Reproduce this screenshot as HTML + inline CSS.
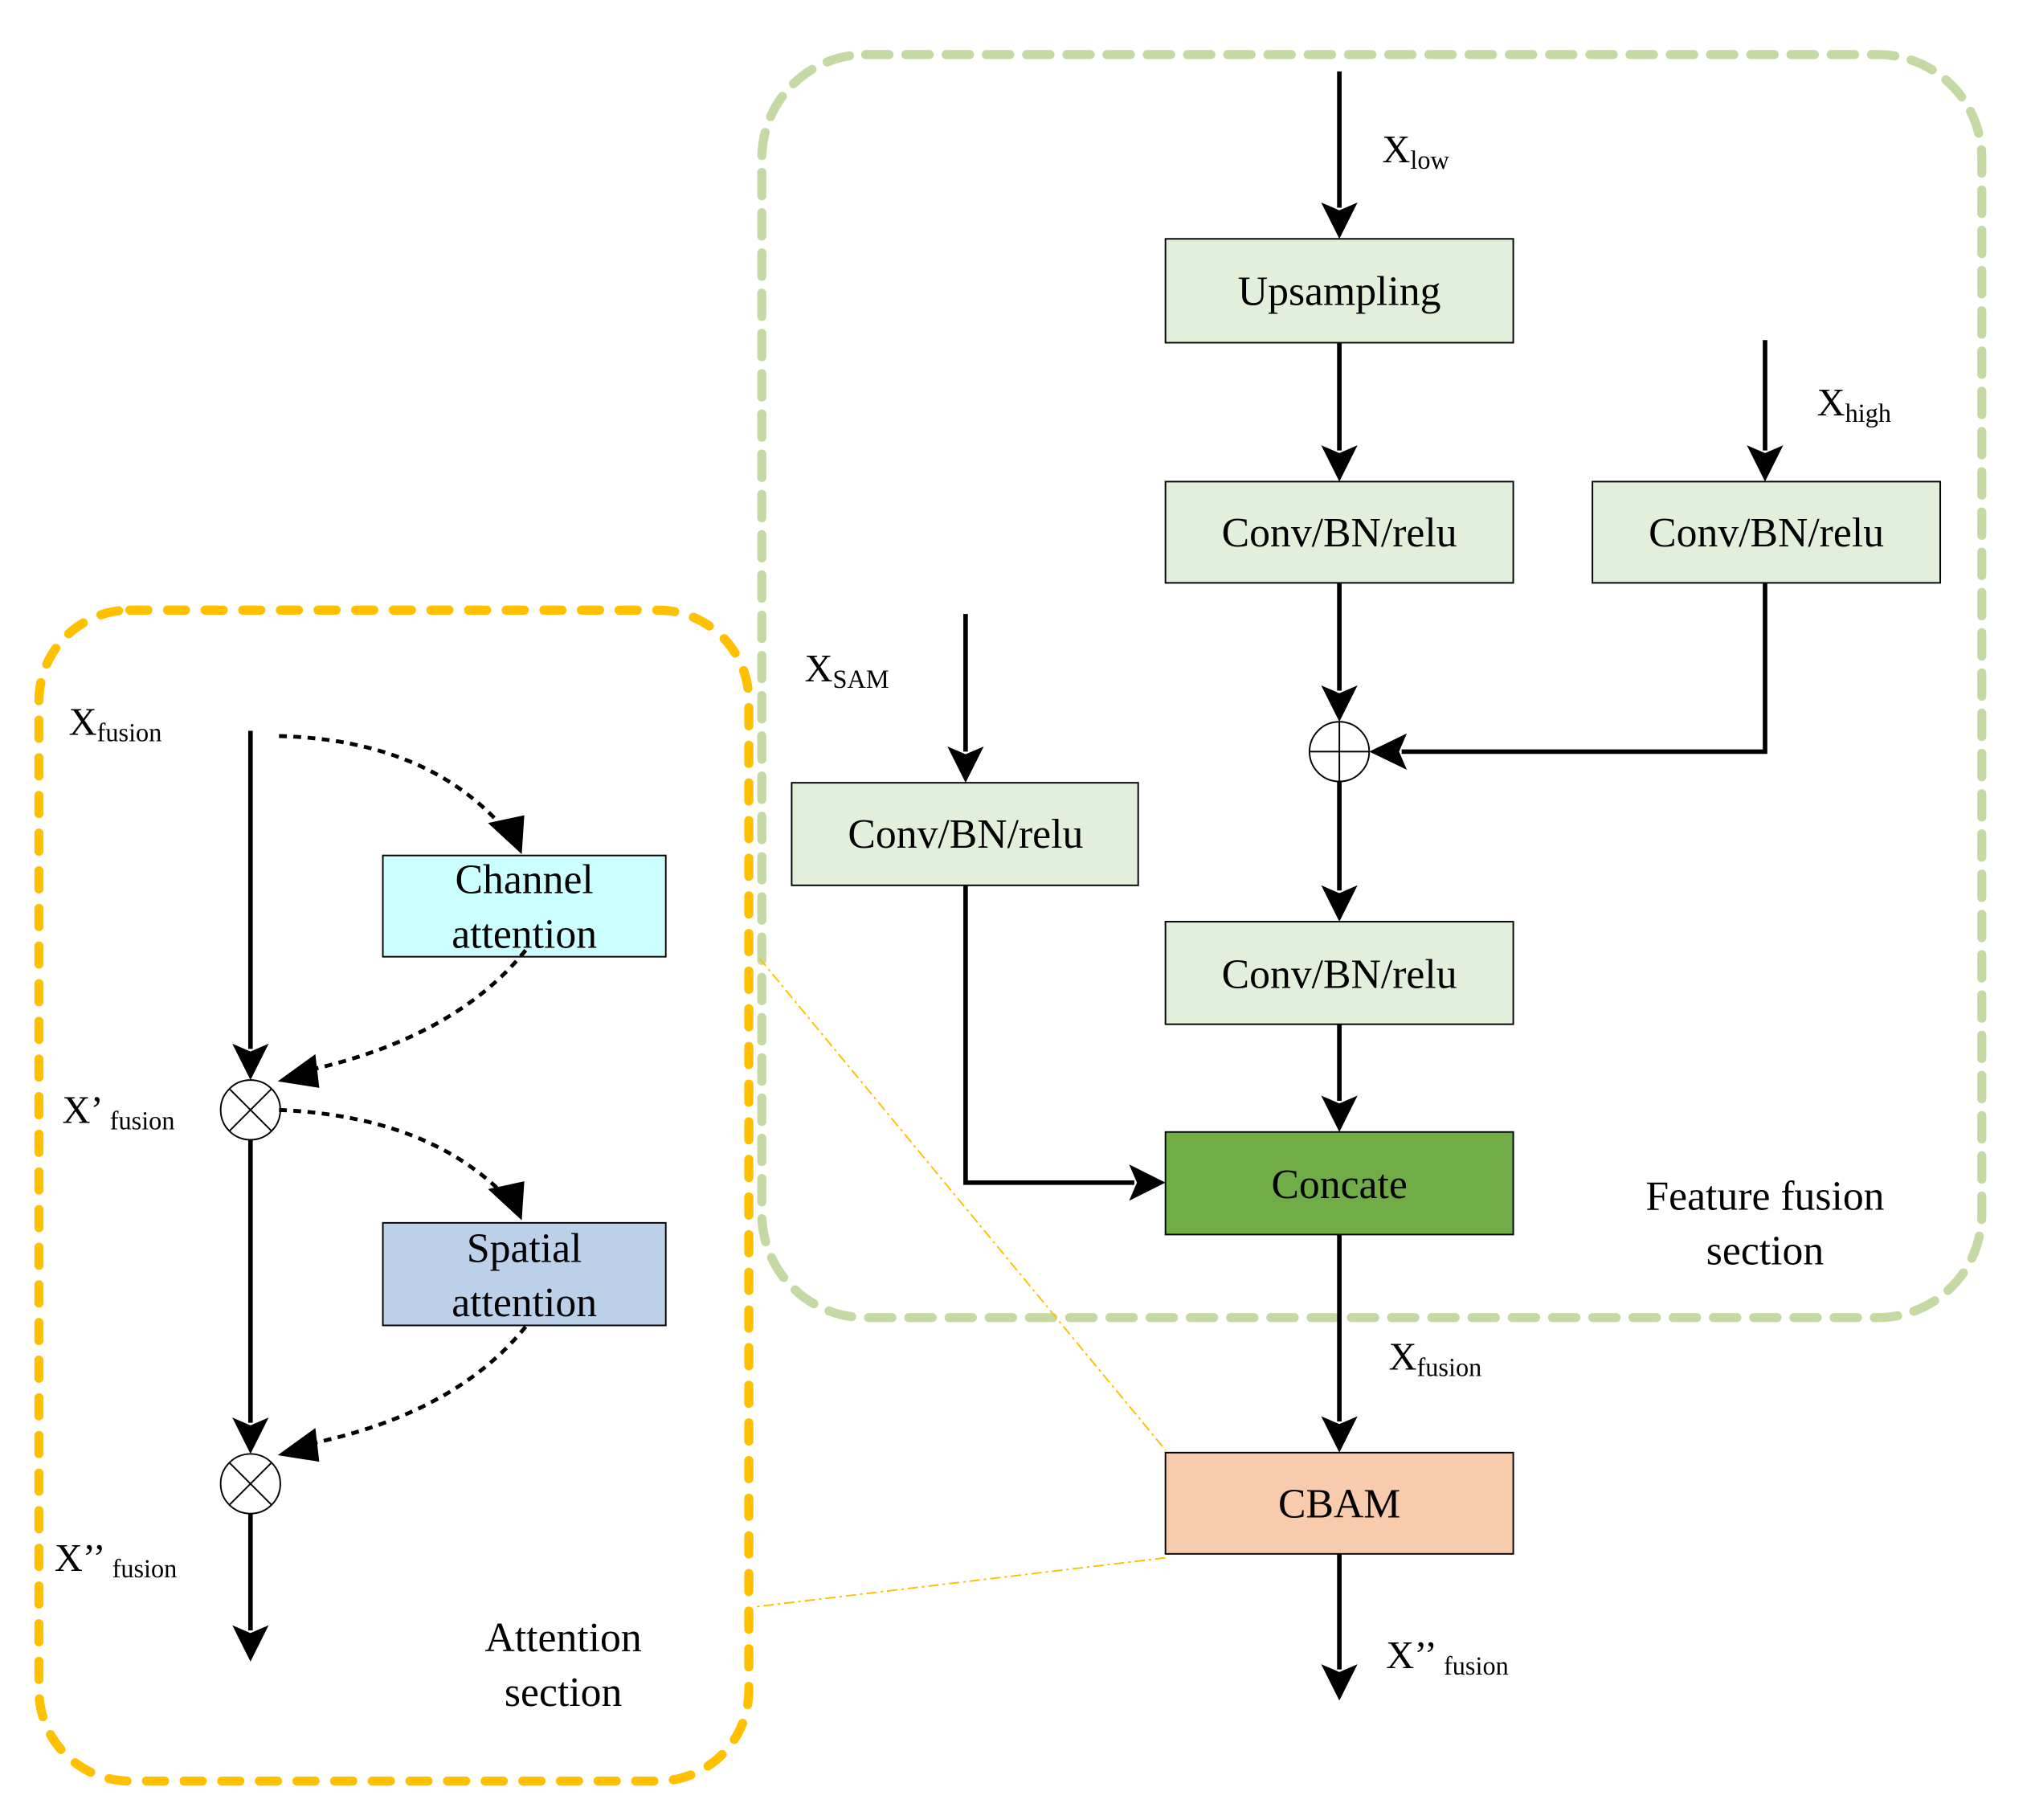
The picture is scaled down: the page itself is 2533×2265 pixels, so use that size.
<!DOCTYPE html>
<html><head><meta charset="utf-8"><style>html,body{margin:0;padding:0;background:#fff}svg{display:block}</style></head>
<body>
<svg width="2533" height="2265" viewBox="0 0 1568 1402" preserveAspectRatio="none" xmlns="http://www.w3.org/2000/svg" font-family="Liberation Serif, serif">
<rect x="587" y="42" width="940" height="973" rx="80" fill="none" stroke="#c5d9a5" stroke-width="7" stroke-dasharray="18 13" stroke-linecap="round"/>
<rect x="30" y="470" width="547" height="902" rx="70" fill="none" stroke="#ffc000" stroke-width="7" stroke-dasharray="14 15" stroke-linecap="round"/>
<line x1="585" y1="738" x2="898" y2="1117" stroke="#ffc000" stroke-width="1.2" stroke-dasharray="8 3 2 3"/>
<line x1="898" y1="1200" x2="580" y2="1238" stroke="#ffc000" stroke-width="1.2" stroke-dasharray="8 3 2 3"/>
<g stroke="#000" stroke-width="1.2">
<rect x="898" y="184" width="268" height="80" fill="#e2efda"/>
<rect x="898" y="371" width="268" height="78" fill="#e2efda"/>
<rect x="1227" y="371" width="268" height="78" fill="#e2efda"/>
<rect x="610" y="603" width="267" height="79" fill="#e2efda"/>
<rect x="898" y="710" width="268" height="79" fill="#e2efda"/>
<rect x="898" y="872" width="268" height="79" fill="#70ad47"/>
<rect x="898" y="1119" width="268" height="78" fill="#f8cbad"/>
<rect x="295" y="659" width="218" height="78" fill="#ccffff"/>
<rect x="295" y="942" width="218" height="79" fill="#bdd0e9"/>
<circle cx="1032" cy="579" r="23" fill="#fff"/>
<line x1="1009" y1="579" x2="1055" y2="579"/><line x1="1032" y1="556" x2="1032" y2="602"/>
<circle cx="193" cy="855" r="23" fill="#fff"/>
<line x1="177" y1="839" x2="209" y2="871"/><line x1="209" y1="839" x2="177" y2="871"/>
<circle cx="193" cy="1143" r="23" fill="#fff"/>
<line x1="177" y1="1127" x2="209" y2="1159"/><line x1="209" y1="1127" x2="177" y2="1159"/>
</g>
<g stroke="#000" stroke-width="3.5" fill="none">
<path d="M1032 55V160M1032 264V347M1032 449V532M1032 602V686M1032 789V848M1032 951V1095M1032 1197V1286"/>
<path d="M1360 262V347M1360 449V579H1080"/>
<path d="M744 473V579M744 682V911H874"/>
<path d="M193 563V808M193 878V1096M193 1166V1256"/>
</g>
<g fill="#000">
<path d="M1018 156L1032 184L1046 156L1032 162Z"/>
<path d="M1018 343L1032 371L1046 343L1032 349Z"/>
<path d="M1018 528L1032 556L1046 528L1032 534Z"/>
<path d="M1018 682L1032 710L1046 682L1032 688Z"/>
<path d="M1018 844L1032 872L1046 844L1032 850Z"/>
<path d="M1018 1091L1032 1119L1046 1091L1032 1097Z"/>
<path d="M1018 1282L1032 1310L1046 1282L1032 1288Z"/>
<path d="M1346 343L1360 371L1374 343L1360 349Z"/>
<path d="M1084 565L1055 579L1084 593L1078 579Z"/>
<path d="M730 575L744 603L758 575L744 581Z"/>
<path d="M870 897L898 911L870 925L876 911Z"/>
<path d="M179 804L193 832L207 804L193 810Z"/>
<path d="M179 1092L193 1120L207 1092L193 1098Z"/>
<path d="M179 1252L193 1280L207 1252L193 1258Z"/>
</g>
<g stroke="#000" stroke-width="3" fill="none" stroke-dasharray="6 5">
<path d="M215 567Q330 570 390 640"/>
<path d="M405 732Q350 800 235 825"/>
<path d="M215 855Q330 860 390 922"/>
<path d="M405 1022Q350 1090 235 1113"/>
</g>
<g fill="#000">
<path d="M376 634L402 658L404 628Z"/>
<path d="M243 812L214 833L246 838Z"/>
<path d="M376 916L402 940L404 910Z"/>
<path d="M243 1100L214 1121L246 1126Z"/>
</g>
<g font-size="32" text-anchor="middle" fill="#000">
<text x="1032" y="235">Upsampling</text>
<text x="1032" y="421">Conv/BN/relu</text>
<text x="1361" y="421">Conv/BN/relu</text>
<text x="744" y="653">Conv/BN/relu</text>
<text x="1032" y="761">Conv/BN/relu</text>
<text x="1032" y="923">Concate</text>
<text x="1032" y="1169">CBAM</text>
<text x="404" y="688">Channel</text>
<text x="404" y="730">attention</text>
<text x="404" y="972">Spatial</text>
<text x="404" y="1014">attention</text>
<text x="1360" y="932">Feature fusion</text>
<text x="1360" y="974">section</text>
<text x="434" y="1272">Attention</text>
<text x="434" y="1314">section</text>
</g>
<g font-size="30" fill="#000">
<text x="1065" y="125">X<tspan font-size="20" dy="5">low</tspan></text>
<text x="1400" y="320">X<tspan font-size="20" dy="5">high</tspan></text>
<text x="620" y="525">X<tspan font-size="20" dy="5">SAM</tspan></text>
<text x="1070" y="1055">X<tspan font-size="20" dy="5">fusion</tspan></text>
<text x="1068" y="1285">X’’<tspan font-size="20" dy="5"> fusion</tspan></text>
<text x="53" y="566">X<tspan font-size="20" dy="5">fusion</tspan></text>
<text x="48" y="865">X’<tspan font-size="20" dy="5"> fusion</tspan></text>
<text x="42" y="1210">X’’<tspan font-size="20" dy="5"> fusion</tspan></text>
</g>
</svg>
</body></html>
